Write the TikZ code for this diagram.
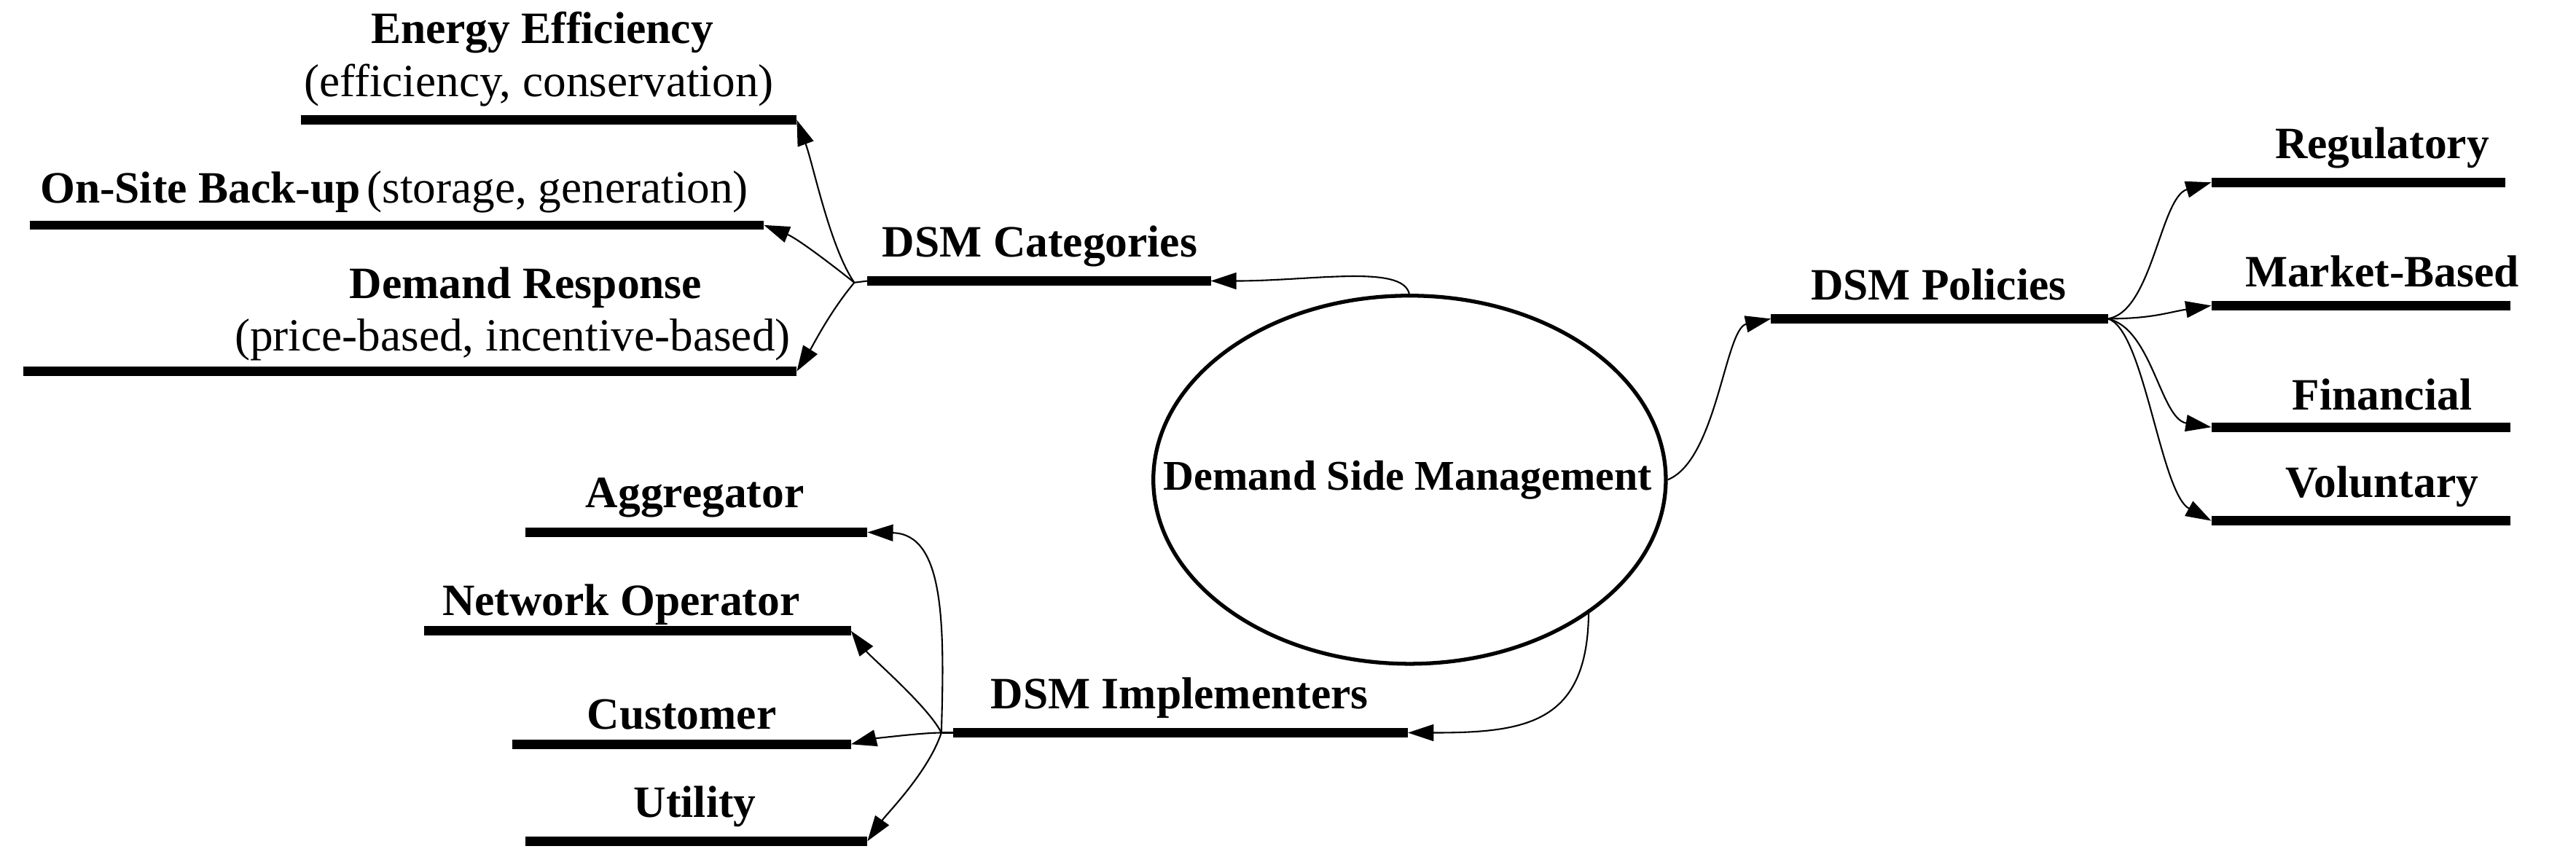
\documentclass[tikz,border=0pt]{standalone}
\usepackage{fontspec}
\setmainfont{Liberation Serif}
\usetikzlibrary{arrows.meta,shapes.geometric}
\begin{document}
\begin{tikzpicture}[x=0.02254cm,y=-0.02254cm,
  bar/.style={line width=3.6pt},
  lbl/.style={font=\fontsize{17.5}{20}\selectfont\bfseries, inner sep=1pt},
  sub/.style={font=\fontsize{18}{20}\selectfont, inner sep=1pt},
  conn/.style={line width=0.6pt,-{Triangle[length=10pt,width=6.5pt]}}]
\useasboundingbox (0,0) rectangle (1568,526.2);
% central ellipse
\node[ellipse,draw,line width=1.5pt,inner sep=0pt,minimum width=7.03cm,minimum height=5.05cm] (dsm) at (858,292) {};
\node[font=\fontsize{16.5}{19}\selectfont\bfseries, inner sep=1pt] (dsmText) at (857,292) {Demand Side Management};
\coordinate (dsmT) at (858,181);
\coordinate (dsmR) at (dsm.east);
\coordinate (dsmB) at (967,371);
% DSM Categories
\coordinate (catL) at (528,171); \coordinate (catR) at (737,171);
\draw[bar] (catL) -- (catR);
\node[lbl] (catT) at (633,150) {DSM Categories};
\coordinate (catJ) at (520,172);
\coordinate (eeL) at (183,73); \coordinate (eeR) at (485,73);
\draw[bar] (eeL) -- (eeR);
\node[lbl] (eeT) at (330,20) {Energy Efficiency};
\node[sub] (eeS) at (328,52) {(efficiency, conservation)};
\coordinate (osL) at (18,137); \coordinate (osR) at (465,137);
\draw[bar] (osL) -- (osR);
\node[inner sep=1pt] (osT) at (240,117) {{\fontsize{17.5}{20}\selectfont\bfseries On-Site Back-up} {\fontsize{18}{20}\selectfont(storage, generation)}};
\coordinate (drL) at (14,226); \coordinate (drR) at (485,226);
\draw[bar] (drL) -- (drR);
\node[lbl] (drT) at (320,175) {Demand Response};
\node[sub] (drS) at (312,207) {(price-based, incentive-based)};
\draw[line width=0.6pt] (catJ) -- (catL);
\draw[conn] (catJ) .. controls (505,150) and (495,100) .. (eeR);
\draw[conn] (catJ) .. controls (505,160) and (485,145) .. (osR);
\draw[conn] (catJ) .. controls (505,190) and (495,210) .. (drR);
\draw[conn] (dsmT) .. controls (858,160) and (800,171) .. (catR);
% DSM Policies
\coordinate (polL) at (1078,194); \coordinate (polR) at (1283,194);
\draw[bar] (polL) -- (polR);
\node[lbl] (polT) at (1180,173) {DSM Policies};
\draw[conn] (dsmR) .. controls (1045,280) and (1050,200) .. (polL);
\coordinate (regL) at (1346,111); \coordinate (regR) at (1525,111);
\coordinate (mbL) at (1346,186); \coordinate (mbR) at (1528,186);
\coordinate (finL) at (1346,260); \coordinate (finR) at (1528,260);
\coordinate (volL) at (1346,317); \coordinate (volR) at (1528,317);
\foreach \a/\b in {regL/regR,mbL/mbR,finL/finR,volL/volR} \draw[bar] (\a) -- (\b);
\node[lbl] (regT) at (1450,90) {Regulatory};
\node[lbl] (mbT) at (1450,165) {Market-Based};
\node[lbl] (finT) at (1450,240) {Financial};
\node[lbl] (volT) at (1450,296) {Voluntary};
\draw[conn] (polR) .. controls (1310,190) and (1315,120) .. (regL);
\draw[conn] (polR) .. controls (1310,194) and (1320,190) .. (mbL);
\draw[conn] (polR) .. controls (1310,200) and (1315,255) .. (finL);
\draw[conn] (polR) .. controls (1305,200) and (1315,300) .. (volL);
% DSM Implementers
\coordinate (impL) at (580,446); \coordinate (impR) at (857,446);
\draw[bar] (impL) -- (impR);
\node[lbl] (impT) at (718,425) {DSM Implementers};
\coordinate (impJ) at (573,446);
\draw[conn] (dsmB) .. controls (967,440) and (930,446) .. (impR);
\draw[line width=0.6pt] (impJ) -- (impL);
\coordinate (agL) at (320,324); \coordinate (agR) at (528,324);
\coordinate (noL) at (258,384); \coordinate (noR) at (518,384);
\coordinate (cuL) at (312,453); \coordinate (cuR) at (518,453);
\coordinate (utL) at (320,512); \coordinate (utR) at (528,512);
\foreach \a/\b in {agL/agR,noL/noR,cuL/cuR,utL/utR} \draw[bar] (\a) -- (\b);
\node[lbl] (agT) at (423,303) {Aggregator};
\node[lbl] (noT) at (378,368) {Network Operator};
\node[lbl] (cuT) at (415,435) {Customer};
\node[lbl] (utT) at (423,491) {Utility};
\draw[conn] (impJ) .. controls (575,380) and (575,325) .. (agR);
\draw[conn] (impJ) .. controls (565,430) and (530,400) .. (noR);
\draw[conn] (impJ) .. controls (560,446) and (530,450) .. (cuR);
\draw[conn] (impJ) .. controls (565,470) and (540,495) .. (utR);
\end{tikzpicture}
\end{document}
